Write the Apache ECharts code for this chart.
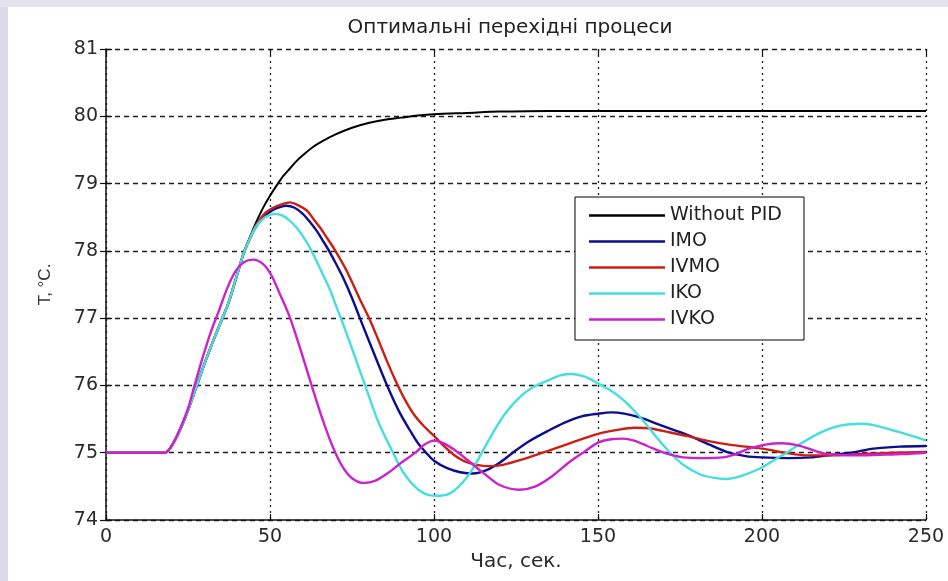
<!DOCTYPE html>
<html>
<head>
<meta charset="utf-8">
<script src="https://cdn.jsdelivr.net/npm/echarts@6/dist/echarts.min.js"></script>
<style>
  html, body { margin: 0; padding: 0; background: #ffffff; }
  #chart { width: 948px; height: 581px; }
</style>
</head>
<body>
<div id="chart"></div>
<script>
// Axis ranges and ticks
const xTicks = [0, 50, 100, 150, 200, 250];
const yTicks = [74, 75, 76, 77, 78, 79, 80, 81];

const titleText = 'Оптимальні перехідні процеси';
const xName = 'Час, сек.';
const yName = 'T, °C.';
const seriesNames = ['Without PID', 'IMO', 'IVMO', 'IKO', 'IVKO'];

// Shared start of the transient: all controlled runs follow it up to ~78 °C
const commonRise = [
  [0, 75], [18, 75], [20, 75.1], [22.5, 75.33], [25, 75.63], [27.5, 75.97],
  [30, 76.32], [32.5, 76.64], [35, 76.94], [37.5, 77.25], [40, 77.65], [42, 77.97]
];

// Without PID: first-order-like settling to ~80.08
const withoutPidTail = [
  [44, 78.22], [46, 78.45], [48, 78.65], [50, 78.82], [52, 78.97], [54, 79.11],
  [56, 79.22], [58, 79.33], [60, 79.42], [63, 79.54], [66, 79.63], [70, 79.73],
  [75, 79.83], [80, 79.9], [85, 79.95], [90, 79.98], [95, 80.01], [100, 80.03],
  [110, 80.05], [120, 80.07], [135, 80.08], [250, 80.08]
];

// IMO
const imoTail = [
  [44, 78.2], [46, 78.38], [48.5, 78.52], [51, 78.61], [53, 78.65], [55, 78.67],
  [57.5, 78.64], [60, 78.55], [62, 78.44], [64.2, 78.3], [66, 78.16], [68, 78.0],
  [70, 77.82], [72.3, 77.6], [75, 77.3], [77.4, 77.0], [81.5, 76.5], [85.7, 76.0],
  [89.5, 75.6], [92.7, 75.33], [95, 75.15], [97.6, 75.0], [100, 74.88], [104, 74.77],
  [108, 74.71], [112, 74.69], [116, 74.74], [120, 74.85], [124, 75.0], [129, 75.17],
  [135, 75.33], [140, 75.45], [145, 75.54], [150, 75.58], [154, 75.6], [158, 75.58],
  [163, 75.52], [168, 75.43], [173, 75.34], [178, 75.25], [184, 75.12], [190, 75.0],
  [195, 74.95], [200, 74.93], [208, 74.92], [215, 74.93], [220, 74.96], [227, 75.0],
  [234, 75.06], [242, 75.09], [250, 75.1]
];

// IVMO
const ivmoTail = [
  [44, 78.2], [46, 78.4], [48.5, 78.56], [51, 78.64], [53.5, 78.69], [56, 78.72],
  [58.5, 78.68], [61.2, 78.6], [63, 78.49], [65.2, 78.35], [67, 78.22], [69.3, 78.05],
  [71.5, 77.87], [73.4, 77.7], [76, 77.43], [78, 77.22], [80.5, 76.97], [83, 76.68],
  [85.5, 76.38], [88, 76.1], [91, 75.8], [94, 75.56], [97, 75.39], [100, 75.25],
  [103, 75.1], [106, 74.97], [109, 74.88], [113, 74.82], [117, 74.8], [121, 74.82],
  [127, 74.9], [135, 75.03], [142, 75.15], [150, 75.28], [156, 75.34], [161, 75.37],
  [166, 75.36], [172, 75.3], [178, 75.24], [183, 75.18], [190, 75.12], [200, 75.06],
  [207, 75.0], [214, 74.96], [222, 74.96], [230, 74.98], [240, 75.0], [250, 75.01]
];

// IKO
const ikoTail = [
  [44, 78.2], [46, 78.38], [48.5, 78.5], [51.5, 78.55], [54, 78.52], [56, 78.45],
  [58, 78.35], [60, 78.22], [62, 78.06], [64.2, 77.85], [66, 77.66], [68.3, 77.42],
  [70, 77.2], [72, 76.95], [75.5, 76.48], [79, 76.0], [83, 75.46], [87.5, 75.0],
  [91, 74.68], [95, 74.46], [98.5, 74.37], [101.8, 74.36], [105, 74.4], [108, 74.52],
  [111, 74.7], [114.6, 75.0], [118, 75.3], [122, 75.6], [126, 75.82], [130, 75.97],
  [135, 76.08], [138.5, 76.15], [142, 76.17], [146, 76.13], [150, 76.03], [154, 75.92],
  [158, 75.77], [163, 75.52], [167, 75.28], [172, 75.0], [176, 74.82], [181, 74.68],
  [185, 74.63], [189, 74.61], [194, 74.66], [200, 74.78], [204, 74.9], [207.5, 75.0],
  [212, 75.14], [217, 75.28], [222, 75.38], [226, 75.42], [230.5, 75.43], [235, 75.4],
  [240, 75.33], [245, 75.26], [250, 75.18]
];

// IVKO: leaves the common rise early and oscillates fastest
const ivko = [
  [0, 75], [18, 75], [20, 75.1], [22.5, 75.35], [25, 75.66], [27, 76.0], [29.5, 76.42],
  [32, 76.8], [34.5, 77.12], [37, 77.45], [39.5, 77.7], [42, 77.83], [44.8, 77.87],
  [48, 77.8], [50.5, 77.63], [53, 77.36], [56, 77.02], [59, 76.58], [62.5, 76.03],
  [66, 75.5], [69.2, 75.08], [72, 74.8], [75, 74.62], [78.5, 74.55], [82, 74.58],
  [86, 74.7], [90, 74.85], [94.8, 75.02], [97, 75.12], [100, 75.18], [103, 75.14],
  [106, 75.05], [110, 74.9], [115, 74.7], [120, 74.52], [126, 74.45], [131, 74.5],
  [136, 74.65], [141, 74.85], [146, 75.02], [150, 75.15], [154, 75.2], [157.5, 75.21],
  [161, 75.18], [165, 75.1], [170, 75.0], [176, 74.93], [182, 74.92], [188, 74.93],
  [192, 74.98], [196, 75.06], [201, 75.12], [206, 75.14], [211, 75.11], [216, 75.03],
  [220, 74.98], [228, 74.96], [236, 74.97], [243, 74.98], [250, 75.0]
];

const seriesColors = ['#000000', '#0d0d8f', '#cc1f14', '#45dede', '#cc22cc'];

const seriesData = [
  commonRise.concat(withoutPidTail),
  commonRise.concat(imoTail),
  commonRise.concat(ivmoTail),
  commonRise.concat(ikoTail),
  ivko
];

const tickFont = 'DejaVu Sans';
const labelColor = '#2a2a2a';

const chart = echarts.init(document.getElementById('chart'), null, { renderer: 'canvas' });

const option = {
  animation: false,
  backgroundColor: '#ffffff',
  grid: { left: 106, top: 49, right: 22, bottom: 61, containLabel: false },
  graphic: [
    { type: 'rect', left: 0, top: 0, shape: { width: 8, height: 581 }, style: { fill: '#dcd9e9' }, z: -10 },
    { type: 'rect', left: 0, top: 0, shape: { width: 948, height: 7 }, style: { fill: '#e4e2ef' }, z: -10 },
    {
      type: 'text', x: 510, y: 28, z: 10,
      style: {
        text: titleText, font: '20px "DejaVu Sans"', fill: '#222222',
        align: 'center', verticalAlign: 'middle'
      }
    }
  ],
  legend: {
    data: seriesNames,
    orient: 'vertical',
    left: 575,
    top: 197,
    icon: 'rect',
    itemWidth: 76,
    itemHeight: 2.5,
    itemGap: 7,
    padding: [9, 22, 11, 14],
    backgroundColor: '#ffffff',
    borderColor: '#000000',
    borderWidth: 1,
    borderRadius: 0,
    textStyle: { fontFamily: tickFont, fontSize: 19, color: '#222222' }
  },
  xAxis: [
    {
      type: 'value', min: xTicks[0], max: xTicks[xTicks.length - 1], interval: 50,
      name: xName, nameLocation: 'middle', nameGap: 30,
      nameTextStyle: { fontFamily: tickFont, fontSize: 20, color: labelColor },
      axisLine: { show: true, onZero: false, lineStyle: { color: '#111111', width: 1.5 } },
      axisTick: { show: true, inside: true, length: 6, lineStyle: { color: '#111111', width: 1.2 } },
      axisLabel: { margin: 8, fontFamily: tickFont, fontSize: 19, color: labelColor },
      splitLine: { show: true, lineStyle: { color: '#1e1e1e', width: 1.3, type: [2, 4] } }
    },
    {
      type: 'value', position: 'top', min: xTicks[0], max: xTicks[xTicks.length - 1], interval: 50,
      axisLine: { show: false },
      axisTick: { show: true, inside: true, length: 6, lineStyle: { color: '#111111', width: 1.2 } },
      axisLabel: { show: false },
      splitLine: { show: false }
    }
  ],
  yAxis: [
    {
      type: 'value', min: yTicks[0], max: yTicks[yTicks.length - 1], interval: 1,
      name: yName, nameLocation: 'middle', nameGap: 52, nameRotate: 90,
      nameTextStyle: { fontFamily: 'Liberation Sans', fontSize: 17, color: '#333333' },
      axisLine: { show: true, onZero: false, lineStyle: { color: '#111111', width: 1.5 } },
      axisTick: { show: true, inside: true, length: 6, lineStyle: { color: '#111111', width: 1.2 } },
      axisLabel: { margin: 8, fontFamily: tickFont, fontSize: 19, color: labelColor },
      splitLine: { show: true, lineStyle: { color: '#1e1e1e', width: 1.3, type: [5, 4] } }
    },
    {
      type: 'value', position: 'right', min: yTicks[0], max: yTicks[yTicks.length - 1], interval: 1,
      axisLine: { show: false },
      axisTick: { show: true, inside: true, length: 6, lineStyle: { color: '#111111', width: 1.2 } },
      axisLabel: { show: false },
      splitLine: { show: false }
    }
  ],
  series: seriesNames.map((name, i) => ({
    name: name,
    type: 'line',
    xAxisIndex: 0,
    yAxisIndex: 0,
    data: seriesData[i],
    smooth: 0.3,
    symbol: 'none',
    showSymbol: false,
    color: seriesColors[i],
    lineStyle: { color: seriesColors[i], width: i === 0 ? 2 : 2.4 },
    z: 2 + i
  }))
};

chart.setOption(option);
</script>
</body>
</html>
